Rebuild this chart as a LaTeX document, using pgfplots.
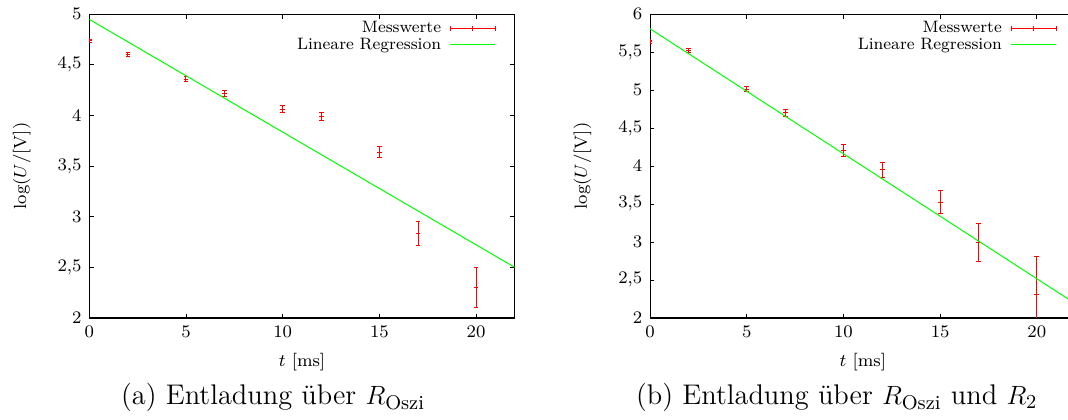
\documentclass[border=0pt]{standalone}
\usepackage{fontspec}
\usepackage{pgfplots}
\usepackage{pgfplotstable}
\pgfplotsset{compat=1.18}

\newcommand\legfont{\fontsize{7.5pt}{9pt}\selectfont}
\newcommand\capfont{\fontsize{12.9pt}{15pt}\selectfont}

% t [ms], log(U/[V]), error
\pgfplotstableread{
t  y      e
0  4.736  0.0175
2  4.605  0.0200
5  4.357  0.0256
7  4.220  0.0294
10 4.060  0.0345
12 3.989  0.0370
15 3.638  0.0526
17 2.833  0.1176
20 2.303  0.2000
}\oszi

\pgfplotstableread{
t  y      e
0  5.635  0.0179
2  5.521  0.0200
5  5.011  0.0333
7  4.700  0.0455
10 4.205  0.0746
12 3.951  0.0962
15 3.526  0.1471
17 2.996  0.2500
20 2.303  0.5000
}\osziRzwei

\pgfplotsset{
  entl/.style={
    scale only axis, width=193.2pt, height=138pt,
    xmin=0, xmax=22, xtick={0,5,10,15,20},
    ymin=2,
    clip marker paths=true,
    tick label style={font=\footnotesize},
    label style={font=\footnotesize},
    major tick length=2pt,
    tick align=inside,
    axis line style={line width=0.5pt},
    every tick/.style={black, line width=0.4pt},
    yticklabel style={/pgf/number format/.cd, use comma, fixed},
    xlabel={$t$ [ms]},
    ylabel={$\log(U/[\mathrm{V}])$},
    xlabel style={at={(axis description cs:0.5,0)}, anchor=north, yshift=-12.6pt},
    ylabel style={at={(axis description cs:-0.1587,0.5)}, anchor=center},
    legend cell align=right,
    legend plot pos=right,
    legend style={at={(rel axis cs:1,1)}, anchor=north east, xshift=-8.4pt, yshift=-2.5pt,
      draw=none, fill=none, inner sep=0pt, row sep=0pt,
      column sep=4pt, nodes={inner sep=0pt, text height=5.8pt, text depth=1.6pt}},
  },
  mess/.style={color=red, only marks, mark=+, mark size=1.1pt, line width=0.45pt,
    mark options={draw=red, line width=0.45pt},
    legend image code/.code={
      \draw[draw=red, line width=0.45pt] (0pt,0pt) -- (20.4pt,0pt)
        (0pt,-1.1pt) -- (0pt,1.1pt) (10.2pt,-1.1pt) -- (10.2pt,1.1pt)
        (20.4pt,-1.1pt) -- (20.4pt,1.1pt);
    },
    error bars/.cd, y dir=both, y explicit,
    error bar style={draw=red, line width=0.45pt},
    error mark options={draw=red, rotate=90, mark size=1.1pt, line width=0.45pt},
  },
  fit/.style={color=green, line width=0.45pt,
    legend image code/.code={\draw[draw=green, line width=0.45pt] (0pt,0pt) -- (20.4pt,0pt);}},
}

\begin{document}
\begin{tikzpicture}
\useasboundingbox (0,0) rectangle (485pt,190.3pt);

\begin{axis}[entl, at={(40.55pt,45.9pt)}, anchor=south west,
    ymax=5, ytick={2,2.5,...,5}]
\addplot[mess] table[x=t, y=y, y error=e] {\oszi};
\addlegendentry{\legfont Messwerte}
\addplot[fit] coordinates {(0,4.948) (22,2.5)};
\addlegendentry{\legfont Lineare Regression}
\end{axis}

\begin{axis}[entl, at={(295.2pt,45.9pt)}, anchor=south west,
    ymax=6, ytick={2,2.5,...,6}]
\addplot[mess] table[x=t, y=y, y error=e] {\osziRzwei};
\addlegendentry{\legfont Messwerte}
\addplot[fit] coordinates {(0,5.807) (22,2.188)};
\addlegendentry{\legfont Lineare Regression}
\end{axis}

\node[anchor=base, font=\capfont] at (124pt,6.4pt) {(a) Entladung über $R_{\mathrm{Oszi}}$};
\node[anchor=base, font=\capfont] at (380pt,6.4pt) {(b) Entladung über $R_{\mathrm{Oszi}}$ und $R_2$};
\end{tikzpicture}
\end{document}
